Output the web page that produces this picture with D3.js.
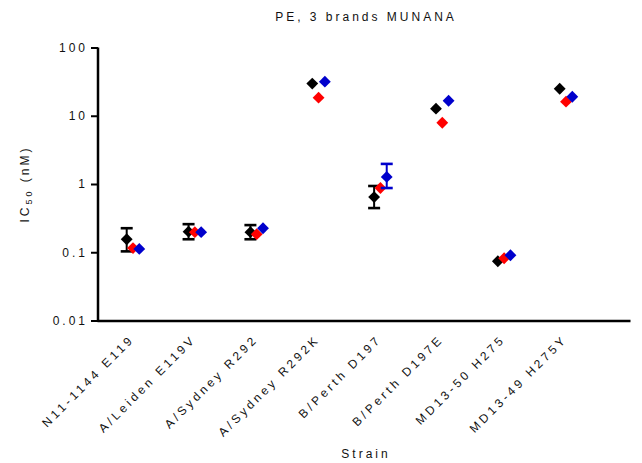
<!DOCTYPE html>
<html>
<head>
<meta charset="utf-8">
<script src="https://cdn.jsdelivr.net/npm/d3@7"></script>
<style>
  body { margin: 0; background: #fff; }
  text { font-family: "Liberation Sans", Arial, sans-serif; font-size: 12px; letter-spacing: 3px; fill: #111; }
</style>
</head>
<body>
<svg width="642" height="463"></svg>
<script>
// strains on the x axis
const strains = ["N11-1144 E119", "A/Leiden E119V", "A/Sydney R292", "A/Sydney R292K",
                 "B/Perth D197", "B/Perth D197E", "MD13-50 H275", "MD13-49 H275Y"];
const seriesNames = ["Brand 1", "Brand 2", "Brand 3"];
const seriesColors = ["#000000", "#ff0000", "#0000cc"];

// IC50 (nM) per brand
const brand1 = [0.155, 0.2, 0.197, 29.6, 0.644, 12.7, 0.0738, 24.9];
const brand2 = [0.115, 0.197, 0.184, 18.4, 0.873, 7.9, 0.0817, 16.1];
const brand3 = [0.112, 0.197, 0.225, 31.6, 1.27, 16.6, 0.0904, 19.0];
// error bar ends (null = none drawn)
const brand1Low  = [0.103, 0.155, 0.155, null, 0.444, null, null, null];
const brand1High = [0.225, 0.258, 0.25, null, 0.935, null, null, null];
const brand3Low  = [null, null, null, null, 0.873, null, null, null];
const brand3High = [null, null, null, null, 1.97, null, null, null];

const yTicks = [0.01, 0.1, 1, 10, 100];
const yTickLabels = ["0.01", "0.1", "1", "10", "100"];

var svg = d3.select("svg");
var axisLeft = 98, axisRight = 630, axisBottom = 320.5, axisTop = 47.5;

var x = d3.scalePoint().domain(strains).range([133, 566]);
var off = d3.scalePoint().domain(seriesNames).range([-6.3, 6.3]);
var y = d3.scaleLog().domain([0.01, 100]).range([axisBottom, axisTop]);

var series = [
  {name: seriesNames[0], values: brand1, low: brand1Low, high: brand1High},
  {name: seriesNames[1], values: brand2, low: null, high: null},
  {name: seriesNames[2], values: brand3, low: brand3Low, high: brand3High}
];

// y axis
var yAxis = svg.append("g")
  .attr("transform", "translate(" + axisLeft + ",0)")
  .call(d3.axisLeft(y).tickValues(yTicks).tickFormat((d, i) => yTickLabels[i]).tickSize(7).tickPadding(3));
yAxis.select(".domain").attr("stroke-width", 2.5).attr("d", "M0," + (axisBottom + 1) + "V" + axisTop);
yAxis.selectAll(".tick line").attr("stroke-width", 2);
yAxis.selectAll(".tick text").style("font-size", "12px").attr("fill", "#111");

// x axis line (no ticks)
var xAxis = svg.append("g")
  .attr("transform", "translate(0," + axisBottom + ")")
  .call(d3.axisBottom(d3.scaleLinear().range([axisLeft - 1, axisRight])).tickValues([]).tickSizeOuter(0));
xAxis.select(".domain").attr("stroke-width", 2.5);

// category labels
svg.append("g").selectAll("text")
  .data(strains)
  .enter().append("text")
  .attr("transform", d => "translate(" + (x(d) + 2) + ",340) rotate(-45)")
  .attr("text-anchor", "end")
  .style("letter-spacing", "3.3px")
  .text(d => d);

// error bars and diamonds
series.forEach(function(s, si) {
  var g = svg.append("g").attr("fill", seriesColors[si]).attr("stroke", seriesColors[si]);
  if (s.low) {
    strains.forEach(function(c, i) {
      if (s.low[i] == null) return;
      var cx = x(c) + off(s.name);
      g.append("line").attr("x1", cx).attr("x2", cx).attr("y1", y(s.low[i])).attr("y2", y(s.high[i])).attr("stroke-width", 2);
      [s.low[i], s.high[i]].forEach(function(v) {
        g.append("line").attr("x1", cx - 6).attr("x2", cx + 6).attr("y1", y(v)).attr("y2", y(v)).attr("stroke-width", 2.6);
      });
    });
  }
  g.selectAll("path")
    .data(s.values)
    .enter().append("path")
    .attr("stroke", "none")
    .attr("d", d3.symbol().type(d3.symbolSquare).size(70))
    .attr("transform", (d, i) => "translate(" + (x(strains[i]) + off(s.name)) + "," + y(d) + ") rotate(45)");
});

// titles
svg.append("text").attr("x", 366).attr("y", 21).attr("text-anchor", "middle").text("PE, 3 brands MUNANA");
svg.append("text").attr("x", 366).attr("y", 458).attr("text-anchor", "middle").text("Strain");
var yl = svg.append("text").attr("transform", "translate(29,184) rotate(-90)").attr("text-anchor", "middle");
yl.append("tspan").text("IC");
yl.append("tspan").attr("dy", 3).style("font-size", "9px").text("50");
yl.append("tspan").attr("dy", -3).text(" (nM)");
</script>
</body>
</html>
